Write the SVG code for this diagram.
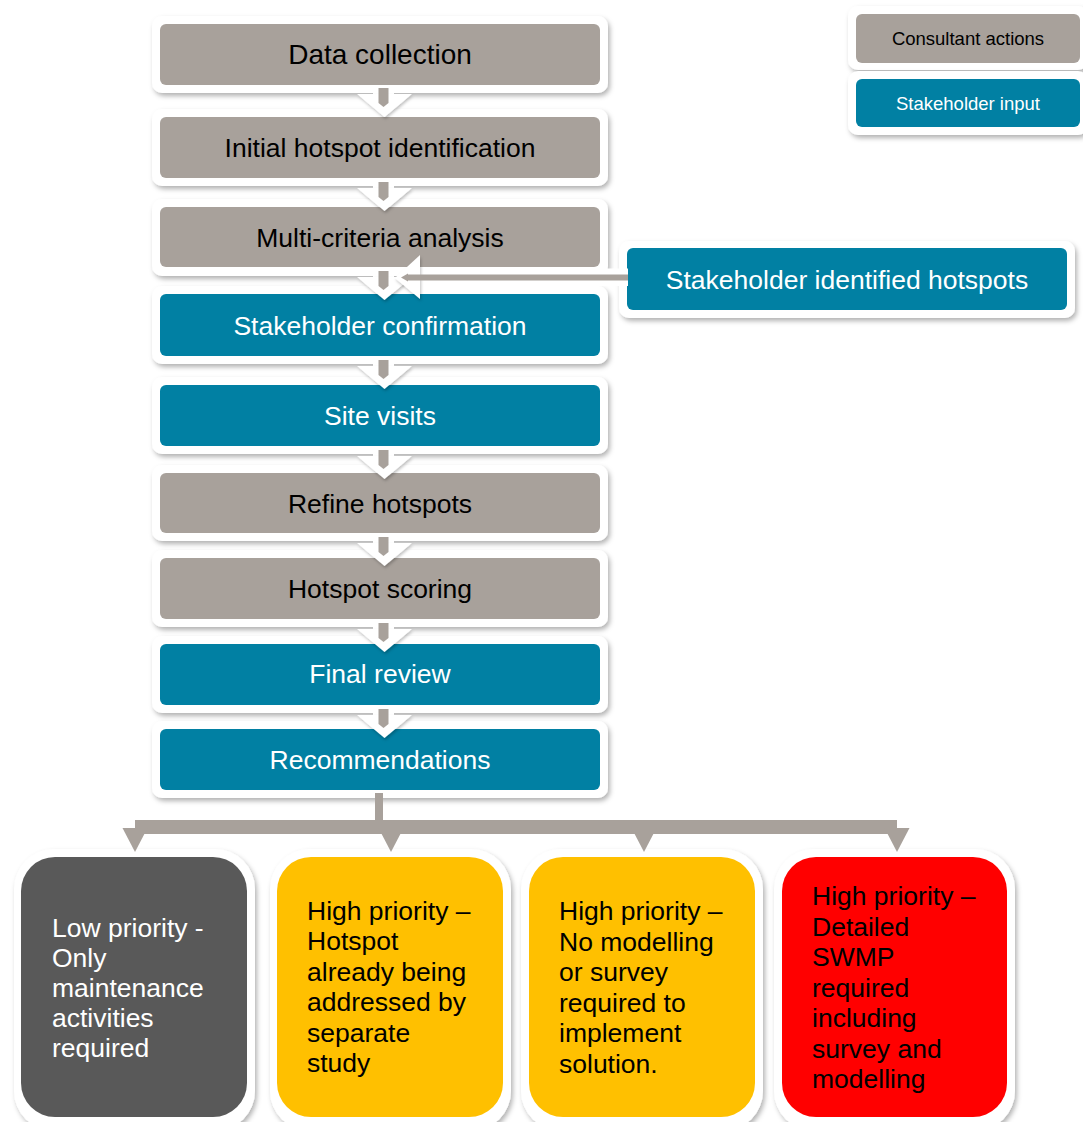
<svg xmlns="http://www.w3.org/2000/svg" xmlns:xlink="http://www.w3.org/1999/xlink" width="1083" height="1122" viewBox="0 0 1083 1122">
<defs>
<filter id="sh" x="-10%" y="-10%" width="125%" height="130%">
<feDropShadow dx="2" dy="3" stdDeviation="2.5" flood-color="#000" flood-opacity="0.3"/>
</filter>
<filter id="sh2" x="-20%" y="-20%" width="140%" height="150%">
<feDropShadow dx="1" dy="2" stdDeviation="1.5" flood-color="#000" flood-opacity="0.25"/>
</filter>
<g id="dn">
<rect x="373" y="1" width="21" height="10" fill="#fff"/>
<polygon points="357,10 412,10 384.5,33" fill="#fff" filter="url(#sh2)"/>
<path d="M378.5,4 H388.5 V19 L383.5,23 L378.5,19 Z" fill="#A8A19B"/>
</g>
</defs>
<style>
.ow{fill:#fff;filter:url(#sh)}
.gr{fill:#A8A19B}
.bl{fill:#0180A3}
.t{font-family:"Liberation Sans",Arial,sans-serif;font-size:26.5px;text-anchor:middle}
.tk{fill:#000}
.tw{fill:#fff}
.lg{font-family:"Liberation Sans",Arial,sans-serif;font-size:18.5px;text-anchor:middle}
.bt{font-family:"Liberation Sans",Arial,sans-serif;font-size:26.5px}
.con{fill:#A8A19B}
</style>
<rect width="1083" height="1122" fill="#fff"/>

<g id="node-data-collection">
<rect class="ow" x="152" y="16" width="456" height="77" rx="10"/>
<rect class="gr" x="160" y="24" width="440" height="61" rx="6"/>
<text class="t tk" x="380" y="64" style="font-size:28px">Data collection</text>
</g>
<g id="node-initial-hotspot">
<rect class="ow" x="152" y="109" width="456" height="77" rx="10"/>
<rect class="gr" x="160" y="117" width="440" height="61" rx="6"/>
<text class="t tk" x="380" y="157">Initial hotspot identification</text>
</g>
<g id="node-multi-criteria">
<rect class="ow" x="152" y="199" width="456" height="77" rx="10"/>
<rect class="gr" x="160" y="207" width="440" height="60" rx="6"/>
<text class="t tk" x="380" y="246.5">Multi-criteria analysis</text>
</g>
<g id="node-stakeholder-confirmation">
<rect class="ow" x="152" y="286" width="456" height="78" rx="10"/>
<rect class="bl" x="160" y="294" width="440" height="62" rx="6"/>
<text class="t tw" x="380" y="334.5">Stakeholder confirmation</text>
</g>
<g id="node-site-visits">
<rect class="ow" x="152" y="377" width="456" height="77" rx="10"/>
<rect class="bl" x="160" y="385" width="440" height="61" rx="6"/>
<text class="t tw" x="380" y="425">Site visits</text>
</g>
<g id="node-refine-hotspots">
<rect class="ow" x="152" y="465" width="456" height="76" rx="10"/>
<rect class="gr" x="160" y="473" width="440" height="60" rx="6"/>
<text class="t tk" x="380" y="513">Refine hotspots</text>
</g>
<g id="node-hotspot-scoring">
<rect class="ow" x="152" y="550" width="456" height="77" rx="10"/>
<rect class="gr" x="160" y="558" width="440" height="61" rx="6"/>
<text class="t tk" x="380" y="598">Hotspot scoring</text>
</g>
<g id="node-final-review">
<rect class="ow" x="152" y="636" width="456" height="77" rx="10"/>
<rect class="bl" x="160" y="644" width="440" height="61" rx="6"/>
<text class="t tw" x="380" y="683">Final review</text>
</g>
<g id="node-recommendations">
<rect class="ow" x="152" y="721" width="456" height="77" rx="10"/>
<rect class="bl" x="160" y="729" width="440" height="61" rx="6"/>
<text class="t tw" x="380" y="769">Recommendations</text>
</g>

<g id="node-stakeholder-identified">
<rect class="ow" x="619" y="241" width="456" height="77" rx="10"/>
<rect class="bl" x="627" y="248" width="440" height="62" rx="6"/>
<text class="t tw" x="847" y="289">Stakeholder identified hotspots</text>
</g>

<g id="legend-consultant">
<rect class="ow" x="848" y="6" width="240" height="64" rx="10"/>
<rect class="gr" x="856" y="14" width="224" height="49" rx="6"/>
<text class="lg tk" x="968" y="45">Consultant actions</text>
</g>
<g id="legend-stakeholder">
<rect class="ow" x="848" y="71" width="240" height="64" rx="10"/>
<rect class="bl" x="856" y="79" width="224" height="48" rx="6"/>
<text class="lg tw" x="968" y="110">Stakeholder input</text>
</g>

<g id="node-low-priority">
<rect class="ow" x="14" y="849" width="241" height="282" rx="40"/>
<rect x="21" y="857" width="226" height="260" rx="34" fill="#595959"/>
<text class="bt tw" x="52" y="937"><tspan x="52">Low priority -</tspan><tspan x="52" dy="30">Only</tspan><tspan x="52" dy="30">maintenance</tspan><tspan x="52" dy="30">activities</tspan><tspan x="52" dy="30">required</tspan></text>
</g>
<g id="node-high-separate-study">
<rect class="ow" x="270" y="849" width="241" height="282" rx="40"/>
<rect x="277" y="857" width="226" height="260" rx="34" fill="#FFC000"/>
<text class="bt tk" x="307" y="920"><tspan x="307">High priority –</tspan><tspan x="307" dy="30.4">Hotspot</tspan><tspan x="307" dy="30.4">already being</tspan><tspan x="307" dy="30.4">addressed by</tspan><tspan x="307" dy="30.4">separate</tspan><tspan x="307" dy="30.4">study</tspan></text>
</g>
<g id="node-high-no-modelling">
<rect class="ow" x="521" y="849" width="242" height="282" rx="40"/>
<rect x="529" y="857" width="226" height="260" rx="34" fill="#FFC000"/>
<text class="bt tk" x="559" y="920"><tspan x="559">High priority –</tspan><tspan x="559" dy="30.6">No modelling</tspan><tspan x="559" dy="30.6">or survey</tspan><tspan x="559" dy="30.6">required to</tspan><tspan x="559" dy="30.6">implement</tspan><tspan x="559" dy="30.6">solution.</tspan></text>
</g>
<g id="node-high-detailed-swmp">
<rect class="ow" x="774" y="849" width="241" height="282" rx="40"/>
<rect x="782" y="857" width="225" height="260" rx="34" fill="#FF0000"/>
<text class="bt tk" x="812" y="905"><tspan x="812">High priority –</tspan><tspan x="812" dy="30.5">Detailed</tspan><tspan x="812" dy="30.5">SWMP</tspan><tspan x="812" dy="30.5">required</tspan><tspan x="812" dy="30.5">including</tspan><tspan x="812" dy="30.5">survey and</tspan><tspan x="812" dy="30.5">modelling</tspan></text>
</g>

<g id="connectors">
<use xlink:href="#dn" href="#dn" y="84"/>
<use xlink:href="#dn" href="#dn" y="178"/>
<use xlink:href="#dn" href="#dn" y="267"/>
<use xlink:href="#dn" href="#dn" y="356"/>
<use xlink:href="#dn" href="#dn" y="446"/>
<use xlink:href="#dn" href="#dn" y="533"/>
<use xlink:href="#dn" href="#dn" y="619"/>
<use xlink:href="#dn" href="#dn" y="705"/>

<g id="conn-stakeholder-identified">
<rect x="414" y="268.5" width="214" height="17.5" fill="#fff"/>
<polygon points="395,278 420,255 420,299" fill="#fff" filter="url(#sh2)"/>
<rect x="407" y="274.5" width="221" height="6" fill="#A8A19B"/>
<polygon points="401,277.5 408,273.5 408,281.5" fill="#A8A19B"/>
</g>

<g id="conn-branches">
<rect class="con" x="375" y="793" width="8" height="31"/>
<path d="M135,834 V828 Q135,820 143,820 H889 Q897,820 897,828 V834 Z" class="con"/>
<rect class="con" x="135" y="820" width="762" height="8"/>
<polygon class="con" points="122.5,828 147.5,828 135,852"/>
<polygon class="con" points="378.5,828 403.5,828 391,852"/>
<polygon class="con" points="631.5,828 656.5,828 644,852"/>
<polygon class="con" points="884.5,828 909.5,828 897,852"/>
</g>
</g>
</svg>
